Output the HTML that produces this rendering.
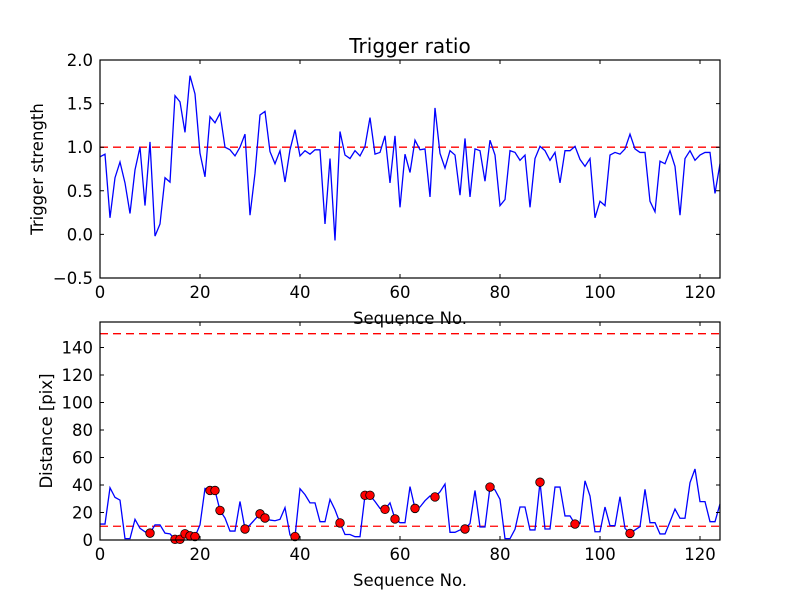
<!DOCTYPE html>
<html><head><meta charset="utf-8"><style>
body{margin:0;background:#fff;}
svg{display:block;font-family:"DejaVu Sans","Liberation Sans",sans-serif;}
</style></head><body>
<svg id="chart" width="800" height="600" viewBox="0 0 800 600" xmlns="http://www.w3.org/2000/svg">
<rect width="800" height="600" fill="#fff"/>
</svg>
<script>
const seqMax = 124;
const triggerStrength = [0.89,0.92,0.19,0.65,0.83,0.59,0.24,0.74,1.0,0.33,1.06,-0.02,0.12,0.65,0.6,1.59,1.52,1.17,1.82,1.61,0.93,0.66,1.35,1.28,1.39,1.0,0.97,0.9,1.0,1.15,0.22,0.7,1.37,1.41,0.95,0.81,0.96,0.6,0.97,1.2,0.9,0.96,0.92,0.97,0.97,0.12,0.87,-0.07,1.18,0.91,0.87,0.96,0.9,1.01,1.34,0.92,0.94,1.13,0.59,1.13,0.31,0.92,0.71,1.08,0.97,0.98,0.43,1.45,0.93,0.76,0.96,0.91,0.45,1.1,0.43,0.98,0.96,0.61,1.08,0.91,0.33,0.4,0.96,0.94,0.85,0.91,0.31,0.87,1.01,0.96,0.85,0.94,0.59,0.96,0.96,1.01,0.86,0.78,0.87,0.19,0.38,0.33,0.91,0.94,0.92,0.98,1.15,0.98,0.94,0.94,0.38,0.26,0.84,0.81,0.96,0.78,0.22,0.87,0.96,0.85,0.91,0.94,0.94,0.47,0.81];
const triggerThreshold = 1.0;
const distance = [11.6,11.6,38,31,29,1,1,15,8.5,6,5,11,11,5,4.5,0.5,0.5,4.5,3,2.5,11,37.5,36,36,21.5,16,6.5,6.5,28,8,11,15,19,16,14.5,14,15,23.5,3.6,2.5,37.3,33,27,27,13.3,13.3,29.5,22,12.4,4,4,2.4,2.4,32.5,32.5,28,23,22.3,27,15.3,12.6,12.6,38.8,23,24,28.6,32,31.3,35,40.7,5.6,5.6,7.3,8,12,36,9.5,9.5,38.5,36.4,29.6,1,1,7.8,24,24,7.3,7.3,42,8,8,38.5,38.5,17.5,17.5,11.6,12,43,32,6,6,24,10.4,10.4,31.5,8.5,4.8,7.3,9.7,36.8,12.6,12.6,4.4,4.4,13.3,22.5,15.8,15.8,41.7,51.6,27.9,27.9,13.3,13.3,26.2];
const markerIdx = [10,15,16,17,18,19,22,23,24,29,32,33,39,48,53,54,57,59,63,67,73,78,88,95,106];
const distLines = [10,150];
const xTicks = [0,20,40,60,80,100,120];
const topYTicks = [-0.5,0,0.5,1.0,1.5,2.0];
const topYLabels = ["\u22120.5","0.0","0.5","1.0","1.5","2.0"];
const botYTicks = [0,20,40,60,80,100,120,140];

const NS="http://www.w3.org/2000/svg";
const svg=document.getElementById('chart');
function mk(tag,attrs,parent){const e=document.createElementNS(NS,tag);for(const k in attrs)e.setAttribute(k,attrs[k]);(parent||svg).appendChild(e);return e;}
const L=100,R=720;
const FS=16.5;
const xs=v=>L+(v/seqMax)*(R-L);
function axes(top,bot,ymin,ymax,name){
  const ys=v=>bot-(v-ymin)/(ymax-ymin)*(bot-top);
  const g=mk('g',{});
  
  
  return {ys,g,top,bot};
}
function frame(a,yt,yl,ylabel,name,titleX){
  const g=a.g;
  xTicks.forEach(t=>{
    const x=xs(t);
    const tk=mk('path',{d:`M${x},${a.bot}v-4M${x},${a.top}v4`,stroke:'#000','stroke-width':1},g);
    
    
    const tx=mk('text',{x:x,y:a.bot+20,'text-anchor':'middle','font-size':FS},g);
    tx.textContent=t;
    
    
  });
  yt.forEach((t,i)=>{
    const y=a.ys(t);
    const tk=mk('path',{d:`M${L},${y}h4M${R},${y}h-4`,stroke:'#000','stroke-width':1},g);
    
    
    const tx=mk('text',{x:L-7,y:y+6,'text-anchor':'end','font-size':FS},g);
    tx.textContent=yl[i];
    
    
  });
  const fr=mk('rect',{x:L,y:a.top,width:R-L,height:a.bot-a.top,fill:'none',stroke:'#000','stroke-width':1.2},g);
  
  
  const xl=mk('text',{x:(L+R)/2,y:a.bot+46,'text-anchor':'middle','font-size':FS},g);
  xl.textContent='Sequence No.';
  
  
  const cy=(a.top+a.bot)/2;
  const yl2=mk('text',{x:0,y:0,'text-anchor':'middle','font-size':FS,transform:`translate(${titleX},${cy}) rotate(-90)`},g);
  yl2.textContent=ylabel;
  
  
}
// top
const A=axes(60,278,-0.5,2.0,'trigger-strength-axes');
const th=mk('line',{x1:L,x2:R,y1:A.ys(triggerThreshold),y2:A.ys(triggerThreshold),stroke:'#f00','stroke-width':1.3,'stroke-dasharray':'8,5'},A.g);


const p1=mk('polyline',{points:triggerStrength.map((v,i)=>xs(i)+','+A.ys(v)).join(' '),fill:'none',stroke:'#00f','stroke-width':1.3},A.g);


frame(A,topYTicks,topYLabels,'Trigger strength','top',43);
const title=mk('text',{x:(L+R)/2,y:53,'text-anchor':'middle','font-size':20});
title.textContent='Trigger ratio';


// bottom
const B=axes(322,540,0,158.5,'distance-axes');
distLines.forEach(v=>{
  const l=mk('line',{x1:L,x2:R,y1:B.ys(v),y2:B.ys(v),stroke:'#f00','stroke-width':1.3,'stroke-dasharray':'8,5'},B.g);
  
  
});
const p2=mk('polyline',{points:distance.map((v,i)=>xs(i)+','+B.ys(v)).join(' '),fill:'none',stroke:'#00f','stroke-width':1.3},B.g);


markerIdx.forEach(i=>{
  const c=mk('circle',{cx:xs(i),cy:B.ys(distance[i]),r:4.3,fill:'#f00',stroke:'#000','stroke-width':0.8},B.g);
  
  
});
frame(B,botYTicks,botYTicks.map(String),'Distance [pix]','bottom',52);
</script>
</body></html>
